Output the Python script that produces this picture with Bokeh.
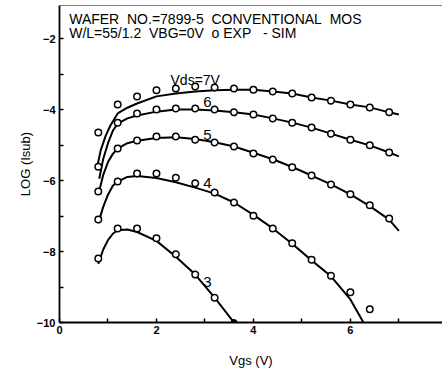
import math
from bokeh.plotting import figure
from bokeh.models import Range1d, FixedTicker, Label, Span
from bokeh.embed import file_html
from bokeh.resources import INLINE

# ---- data ----
vgs_exp = [0.8, 1.2, 1.6, 2.0, 2.4, 2.8, 3.2, 3.6, 4.0, 4.4, 4.8, 5.2, 5.6, 6.0, 6.4, 6.8]
exp7 = [-4.65, -3.86, -3.63, -3.46, -3.41, -3.35, -3.38, -3.41, -3.44, -3.49, -3.55, -3.66, -3.75, -3.86, -3.94, -4.08]
exp6 = [-5.61, -4.37, -4.11, -4.00, -3.97, -3.97, -4.00, -4.08, -4.14, -4.25, -4.37, -4.51, -4.68, -4.85, -5.01, -5.21]
exp5 = [-6.31, -5.10, -4.87, -4.76, -4.76, -4.85, -4.93, -5.04, -5.24, -5.41, -5.63, -5.86, -6.11, -6.39, -6.70, -7.07]
vgs_exp4 = [0.8, 1.2, 1.6, 2.0, 2.4, 2.8, 3.2, 3.6, 4.0, 4.4, 4.8, 5.2, 5.6, 6.0, 6.4]
exp4 = [-7.10, -6.03, -5.80, -5.80, -5.92, -6.08, -6.34, -6.62, -6.99, -7.35, -7.77, -8.23, -8.68, -9.15, -9.63]
vgs_exp3 = [0.8, 1.2, 1.6, 2.0, 2.4, 2.8, 3.2, 3.6]
exp3 = [-8.20, -7.35, -7.35, -7.63, -8.08, -8.65, -9.30, -10.0]

sim7_x = [0.78, 0.85, 0.95, 1.05, 1.2, 1.4, 1.6, 2.0, 2.4, 2.8, 3.2, 3.6, 4.0, 4.4, 4.8, 5.2, 5.6, 6.0, 6.4, 6.8, 7.0]
sim7_y = [-5.6, -5.15, -4.75, -4.45, -4.11, -3.95, -3.83, -3.63, -3.55, -3.49, -3.46, -3.44, -3.44, -3.49, -3.55, -3.66, -3.75, -3.86, -3.94, -4.08, -4.14]
sim6_x = [0.82, 0.9, 1.0, 1.1, 1.2, 1.4, 1.6, 2.0, 2.4, 2.8, 3.2, 3.6, 4.0, 4.4, 4.8, 5.2, 5.6, 6.0, 6.4, 6.8, 7.0]
sim6_y = [-5.95, -5.4, -4.95, -4.6, -4.40, -4.25, -4.17, -4.06, -4.00, -4.00, -4.03, -4.08, -4.14, -4.25, -4.37, -4.51, -4.68, -4.85, -5.01, -5.21, -5.32]
sim5_x = [0.8, 0.9, 1.0, 1.1, 1.2, 1.4, 1.6, 2.0, 2.4, 2.8, 3.2, 3.6, 4.0, 4.4, 4.8, 5.2, 5.6, 6.0, 6.4, 6.8, 7.0]
sim5_y = [-6.40, -5.85, -5.48, -5.25, -5.10, -4.95, -4.88, -4.80, -4.78, -4.83, -4.92, -5.04, -5.22, -5.40, -5.62, -5.86, -6.11, -6.39, -6.72, -7.10, -7.42]
sim4_x = [0.8, 0.9, 1.0, 1.1, 1.2, 1.4, 1.6, 2.0, 2.4, 2.8, 3.2, 3.6, 4.0, 4.4, 4.8, 5.2, 5.6, 6.0, 6.27]
sim4_y = [-7.20, -6.75, -6.40, -6.15, -6.03, -5.90, -5.87, -5.93, -6.05, -6.20, -6.37, -6.62, -6.97, -7.35, -7.78, -8.25, -8.70, -9.35, -10.0]
sim3_x = [0.8, 0.9, 1.0, 1.1, 1.2, 1.4, 1.6, 2.0, 2.4, 2.8, 3.2, 3.6]
sim3_y = [-8.35, -7.95, -7.68, -7.50, -7.40, -7.38, -7.45, -7.70, -8.15, -8.65, -9.30, -10.0]

curve_labels = ["Vds=7V", "6", "5", "4", "3"]
label_x = [2.8, 3.05, 3.05, 3.05, 3.05]
label_y = [-3.18, -3.80, -4.73, -6.08, -8.85]

NB = "\u00a0"
header1 = "WAFER" + NB + " NO.=7899-5" + NB + " CONVENTIONAL" + NB + " MOS"
header2 = "W/L=55/1.2" + NB + " VBG=0V" + NB + " o EXP" + NB + NB + " - SIM"
x_title = "Vgs (V)"
y_title = "LOG (Isub)"

FONT = "Liberation Sans"

p = figure(width=442, height=377, output_backend="svg", toolbar_location=None,
           x_range=Range1d(0, 7.9), y_range=Range1d(-10, -1.07),
           min_border_left=59, min_border_right=0, min_border_top=5, min_border_bottom=55)
p.outline_line_color = None
p.grid.visible = False
p.background_fill_color = "white"

for ax in (p.xaxis[0], p.yaxis[0]):
    ax.axis_line_width = 1.8
    ax.axis_line_color = "black"
    ax.major_tick_in = 4
    ax.major_tick_out = 0
    ax.minor_tick_in = 4
    ax.minor_tick_out = 0
    ax.major_tick_line_width = 1.5
    ax.minor_tick_line_width = 1.5
    ax.major_label_text_font = FONT
    ax.major_label_text_font_style = "bold"
    ax.major_label_text_font_size = "11px"
    ax.major_label_text_color = "black"
    ax.axis_label_text_font = FONT
    ax.axis_label_text_font_size = "13px"
    ax.axis_label_text_font_style = "normal"
    ax.axis_label_text_color = "black"

p.xaxis.ticker = FixedTicker(ticks=[0, 2, 4, 6], minor_ticks=[1, 3, 5, 7])
p.yaxis.ticker = FixedTicker(ticks=[-10, -8, -6, -4, -2], minor_ticks=[-9, -7, -5, -3])
p.xaxis.major_label_standoff = 3
p.yaxis.major_label_standoff = 4
p.xaxis.axis_label = x_title
p.xaxis.axis_label_standoff = 16
p.yaxis.axis_label = y_title
p.yaxis.axis_label_standoff = 1

p.add_layout(Span(location=-1.07, dimension="width", line_color="black", line_width=1.2))

lw = 2.0
for xs, ys in [(sim7_x, sim7_y), (sim6_x, sim6_y), (sim5_x, sim5_y), (sim4_x, sim4_y), (sim3_x, sim3_y)]:
    p.line(xs, ys, line_color="black", line_width=lw)

for xs, ys in [(vgs_exp, exp7), (vgs_exp, exp6), (vgs_exp, exp5), (vgs_exp4, exp4), (vgs_exp3[:-1], exp3[:-1])]:
    p.scatter(xs, ys, marker="circle", size=6.5, fill_color="white", line_color="black", line_width=1.5)
p.scatter(vgs_exp3[-1:], exp3[-1:], marker="circle", size=6, fill_color="black", line_color="black")

for t, lx, ly in zip(curve_labels, label_x, label_y):
    p.add_layout(Label(x=lx, y=ly, text=t, text_align="center", text_baseline="middle",
                       text_font=FONT, text_font_size="14px" if len(t) > 1 else "15px",
                       text_color="black"))

p.add_layout(Label(x=0.2, y=-1.44, text=header1, text_align="left", text_baseline="middle",
                   text_font=FONT, text_font_size="14px", text_color="black"))
p.add_layout(Label(x=0.2, y=-1.84, text=header2, text_align="left", text_baseline="middle",
                   text_font=FONT, text_font_size="14px", text_color="black"))

open("out.html", "w").write(file_html(p, INLINE))
